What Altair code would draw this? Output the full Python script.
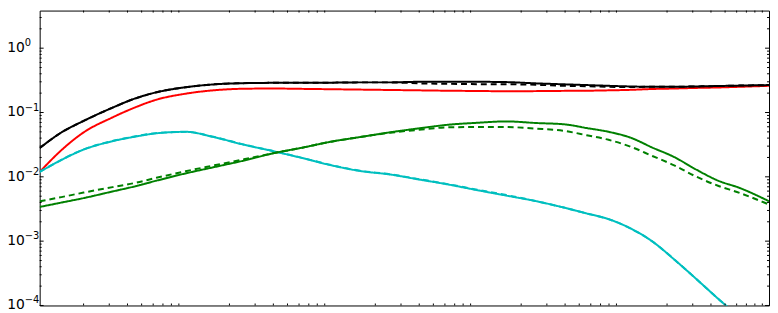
import altair as alt
import pandas as pd

# ---- data (log-log axes) ----
x_vals = [1, 1.41, 2, 3.16, 4.47, 6.31, 10, 15.8, 25.1, 39.8, 63.1, 100, 158, 251,
          398, 631, 1000, 1585, 2512, 3981, 5623, 7943, 11220, 15850, 22390, 31620,
          44670, 63100, 100000]

black_solid = [0.028, 0.049, 0.074, 0.119, 0.164, 0.206, 0.247, 0.274, 0.286, 0.289,
               0.289, 0.291, 0.294, 0.294, 0.300, 0.300, 0.300, 0.297, 0.284, 0.274,
               0.267, 0.260, 0.254, 0.251, 0.251, 0.254, 0.258, 0.262, 0.267]
black_dashed = [0.028, 0.049, 0.074, 0.119, 0.164, 0.206, 0.247, 0.274, 0.286, 0.289,
                0.289, 0.291, 0.294, 0.294, 0.284, 0.279, 0.276, 0.275, 0.270, 0.260,
                0.256, 0.251, 0.249, 0.251, 0.251, 0.254, 0.258, 0.262, 0.267]
red_solid = [0.0119, 0.026, 0.049, 0.084, 0.119, 0.158, 0.196, 0.222, 0.234, 0.236,
             0.233, 0.230, 0.227, 0.224, 0.221, 0.218, 0.216, 0.214, 0.215, 0.217,
             0.218, 0.221, 0.225, 0.232, 0.236, 0.241, 0.245, 0.251, 0.260]
cyan_solid = [0.0119, 0.0183, 0.0265, 0.0358, 0.0420, 0.0475, 0.0501, 0.0412, 0.0316,
              0.0251, 0.0196, 0.0151, 0.0123, 0.0109, 0.0091, 0.0076, 0.0062, 0.0051,
              0.0042, 0.0033, 0.0027, 0.0022, 0.00158, 0.00099, 0.00052, 0.00026,
              0.000128, 0.000065, 0.000026]
cyan_dashed = [0.0119, 0.0184, 0.0267, 0.0360, 0.0423, 0.0478, 0.0500, 0.0415, 0.0318,
               0.0252, 0.0197, 0.0152, 0.0124, 0.0110, 0.0092, 0.0077, 0.0063, 0.0052,
               0.0042, 0.0033, 0.0027, 0.0022, 0.00158, 0.00099, 0.00052, 0.00026,
               0.000128, 0.000065, 0.000026]
green_solid = [0.00340, 0.00398, 0.00467, 0.00592, 0.00709, 0.00871, 0.0113, 0.0142,
               0.0179, 0.0232, 0.0284, 0.0353, 0.0416, 0.0491, 0.0567, 0.0645, 0.0692,
               0.0727, 0.0687, 0.0654, 0.0573, 0.0501, 0.0407, 0.0285, 0.0203, 0.0130,
               0.00874, 0.00670, 0.00417]
green_dashed = [0.00417, 0.00484, 0.00569, 0.00692, 0.00800, 0.00965, 0.0122, 0.0151,
                0.0187, 0.0232, 0.0284, 0.0352, 0.0416, 0.0484, 0.0538, 0.0588, 0.0594,
                0.0594, 0.0563, 0.0516, 0.0443, 0.0376, 0.0295, 0.0211, 0.0151, 0.0101,
                0.00727, 0.00561, 0.00371]

# drawing order: first = bottom
series_names = ["red", "black", "black_d", "cyan", "cyan_d", "green", "green_d"]
series_values = [red_solid, black_solid, black_dashed, cyan_solid, cyan_dashed,
                 green_solid, green_dashed]
series_colors = ["#ff0000", "#000000", "#000000", "#00bfbf", "#00bfbf", "#008000", "#008000"]
series_dashes = [[1, 0], [1, 0], [6, 4], [1, 0], [6, 4], [1, 0], [6, 4]]

# y tick labels: 10^exp
y_label_values = [1e-4, 1e-3, 1e-2, 1e-1, 1]
y_label_base = ["10", "10", "10", "10", "10"]
y_label_exp = ["\u22124", "\u22123", "\u22122", "\u22121", "0"]

x_decades = [1, 10, 100, 1000, 10000]
y_decades = [1e-4, 1e-3, 1e-2, 1e-1, 1]
minor_mults = [2, 3, 4, 5, 6, 7, 8, 9]

# ---- layout ----
W, H = 737, 298
X_DOM = [1, 1e5]
Y_DOM = [1e-4, 3.842]

rows = []
for i, (name, vals) in enumerate(zip(series_names, series_values)):
    for xv, yv in zip(x_vals, vals):
        rows.append({"series": name, "k": i, "x": xv, "y": yv})
df = pd.DataFrame(rows)

x_scale = alt.Scale(type="log", domain=X_DOM, nice=False)
y_scale = alt.Scale(type="log", domain=Y_DOM, nice=False)

lines = alt.Chart(df).mark_line(strokeWidth=2, clip=True, interpolate="monotone").encode(
    x=alt.X("x:Q", scale=x_scale, axis=None),
    y=alt.Y("y:Q", scale=y_scale, axis=None),
    color=alt.Color("series:N", scale=alt.Scale(domain=series_names, range=series_colors),
                    legend=None),
    strokeDash=alt.StrokeDash("series:N", scale=alt.Scale(domain=series_names,
                                                          range=series_dashes),
                              legend=None),
    order=alt.Order("k:Q"),
)

labels_df = pd.DataFrame({"y": y_label_values, "base": y_label_base, "exp": y_label_exp})
label_base = alt.Chart(labels_df).mark_text(
    align="right", baseline="middle", font="DejaVu Sans", fontSize=14, color="black"
).encode(y=alt.Y("y:Q", scale=y_scale, axis=None), x=alt.value(-15), text="base:N")
label_exp = alt.Chart(labels_df).mark_text(
    align="left", baseline="middle", font="DejaVu Sans", fontSize=10, color="black", dy=-5
).encode(y=alt.Y("y:Q", scale=y_scale, axis=None), x=alt.value(-15), text="exp:N")

y_major = pd.DataFrame({"y": y_decades})
y_minor = pd.DataFrame({"y": [m * d for d in y_decades for m in minor_mults
                              if m * d <= Y_DOM[1]]})
x_minor = pd.DataFrame({"x": [m * d for d in x_decades for m in minor_mults]})

def ytick(data, x0, x1):
    return alt.Chart(data).mark_rule(color="black", strokeWidth=1).encode(
        y=alt.Y("y:Q", scale=y_scale, axis=None),
        x=alt.value(x0), x2=alt.value(x1))

def xtick(data, y0, y1):
    return alt.Chart(data).mark_rule(color="black", strokeWidth=1).encode(
        x=alt.X("x:Q", scale=x_scale, axis=None),
        y=alt.value(y0), y2=alt.value(y1))

ticks = [
    ytick(y_major, 0, 4), ytick(y_minor, 0, 2),
    ytick(y_major, W - 4, W), ytick(y_minor, W - 2, W),
    xtick(x_minor, H - 2, H), xtick(x_minor, 0, 2),
]

chart = alt.layer(lines, *ticks, label_base, label_exp).properties(
    width=W, height=H,
    padding={"left": 32, "top": 1, "right": 1, "bottom": 6},
    autosize=alt.AutoSizeParams(type="none"),
    background="white",
).configure_view(stroke="black", strokeWidth=1)

chart.save("out.html", embed_options={"renderer": "svg", "actions": False})
